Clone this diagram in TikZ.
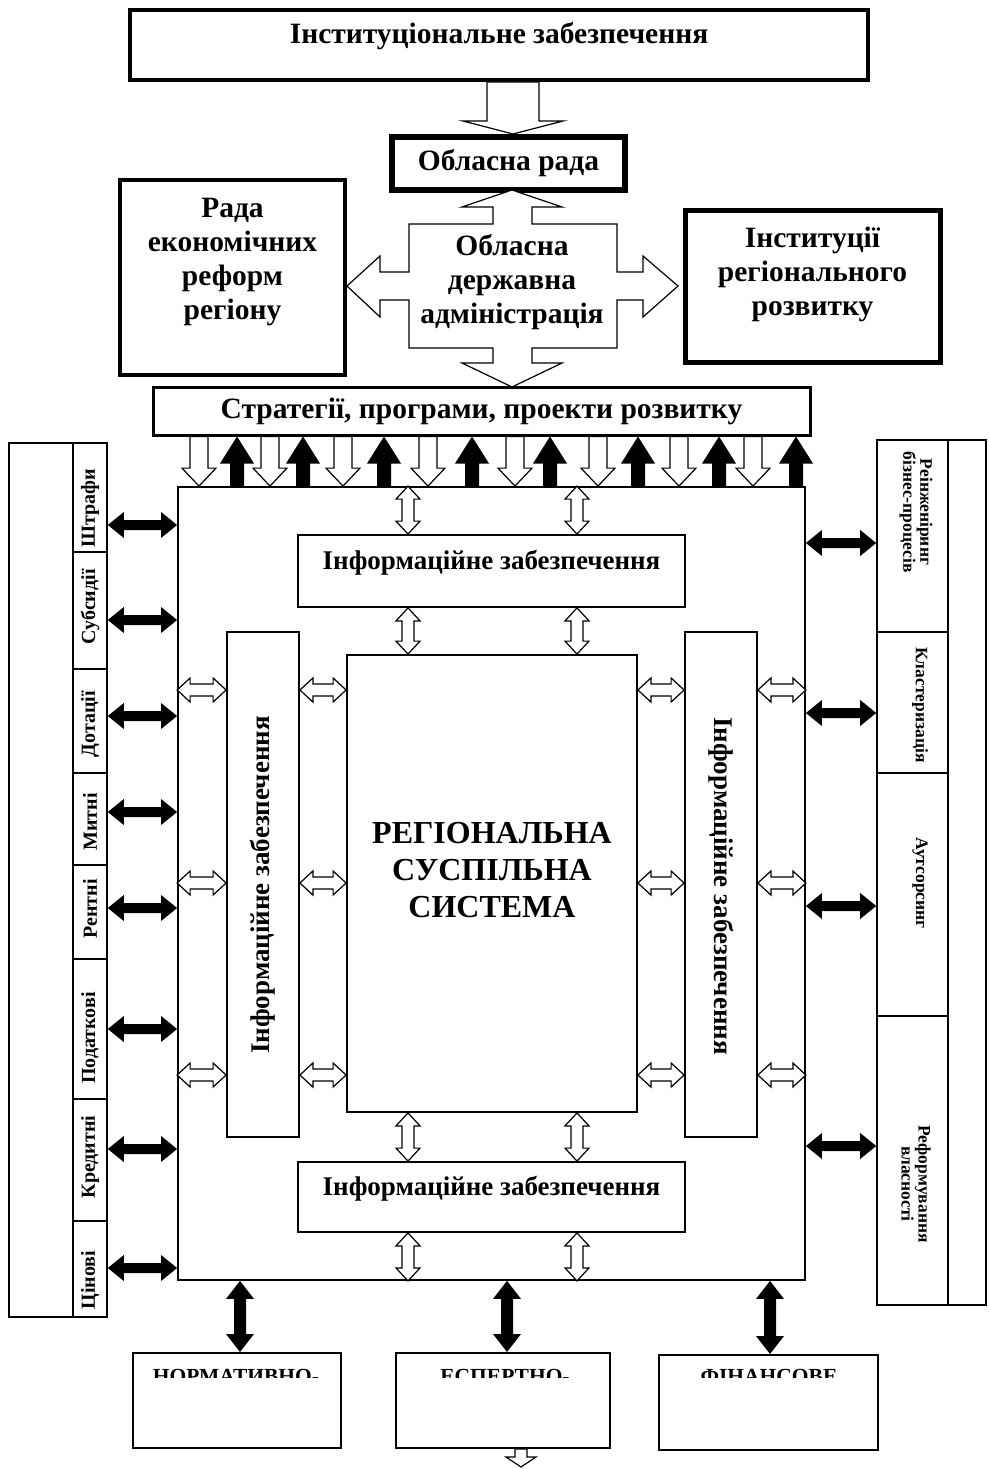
\documentclass[tikz,border=0pt]{standalone}
\usepackage{fontspec}
\setmainfont{Liberation Serif}
\usetikzlibrary{calc}

\tikzset{
  panel/.style={draw, line width=#1, inner sep=0pt},
  divider/.style={line width=1.6pt},
  bigtxt/.style={font=\bfseries\fontsize{29.5}{34}\selectfont, align=center, inner sep=0pt},
  midtxt/.style={font=\bfseries\fontsize{27}{30}\selectfont, align=center, inner sep=0pt},
  smalltxt/.style={font=\bfseries\fontsize{20}{21}\selectfont, align=center, inner sep=0pt},
  sidetxt/.style={font=\bfseries\fontsize{17.5}{17}\selectfont, align=center, inner sep=0pt},
  hollow/.style={draw, fill=white, line width=1.2pt},
  oneway/.style n args={3}{to path={
    ($(\tikztostart)!#2!90:(\tikztotarget)$)
    -- ($(\tikztotarget)!#1!(\tikztostart)!#2!-90:(\tikztostart)$)
    -- ($(\tikztotarget)!#1!(\tikztostart)!#3!-90:(\tikztostart)$)
    -- (\tikztotarget)
    -- ($(\tikztotarget)!#1!(\tikztostart)!#3!90:(\tikztostart)$)
    -- ($(\tikztotarget)!#1!(\tikztostart)!#2!90:(\tikztostart)$)
    -- ($(\tikztostart)!#2!-90:(\tikztotarget)$)
    -- cycle}},
  twoway/.style n args={3}{to path={
    (\tikztostart)
    -- ($(\tikztostart)!#1!(\tikztotarget)!#3!90:(\tikztotarget)$)
    -- ($(\tikztostart)!#1!(\tikztotarget)!#2!90:(\tikztotarget)$)
    -- ($(\tikztotarget)!#1!(\tikztostart)!#2!-90:(\tikztostart)$)
    -- ($(\tikztotarget)!#1!(\tikztostart)!#3!-90:(\tikztostart)$)
    -- (\tikztotarget)
    -- ($(\tikztotarget)!#1!(\tikztostart)!#3!90:(\tikztostart)$)
    -- ($(\tikztotarget)!#1!(\tikztostart)!#2!90:(\tikztostart)$)
    -- ($(\tikztostart)!#1!(\tikztotarget)!#2!-90:(\tikztotarget)$)
    -- ($(\tikztostart)!#1!(\tikztotarget)!#3!-90:(\tikztotarget)$)
    -- cycle}},
}

\begin{document}
\begin{tikzpicture}[x=1pt,y=-1pt]
\useasboundingbox (0,0) rectangle (988,1469);

\node[panel=4pt, minimum width=738pt, minimum height=70pt] (inst) at (499,45) {};
\node[bigtxt] (insttxt) at (499,36) {Інституціональне забезпечення};
\node[panel=6pt, minimum width=233pt, minimum height=53pt, bigtxt] (rada) at (508.5,163.5) {Обласна рада};
\node[panel=4.5pt, minimum width=225pt, minimum height=195pt] (rer) at (232.5,277.5) {};
\node[bigtxt] (rertxt) at (232.5,262) {Рада\\економічних\\реформ\\регіону};
\node[panel=5pt, minimum width=255pt, minimum height=152pt] (ireg) at (812.5,286) {};
\node[bigtxt] (iregtxt) at (812.5,274) {Інституції\\регіонального\\розвитку};
\node[panel=3pt, minimum width=657pt, minimum height=48pt, font=\bfseries\fontsize{29.5}{30}\selectfont] (strat) at (481.5,411) {Стратегії, програми, проекти розвитку};

\coordinate (topx) at (513,0);
\draw[hollow, oneway={13pt}{26pt}{50pt}] (inst.south -| topx) to (rada.north -| topx);

\draw[hollow] (512,190) -- (562,207) -- (532,207) -- (532,224) -- (617,224) -- (617,272)
  -- (643,272) -- (643,256) -- (678,286) -- (643,317) -- (643,300) -- (617,300)
  -- (617,348) -- (532,348) -- (532,363) -- (562,363) -- (512,387) -- (462,363)
  -- (493,363) -- (493,348) -- (409,348) -- (409,300) -- (380,300) -- (380,317)
  -- (347,286) -- (380,256) -- (380,272) -- (409,272) -- (409,224) -- (493,224)
  -- (493,207) -- (462,207) -- cycle;
\node[bigtxt] (oda) at (512,282) {Обласна\\державна\\адміністрація};

\node[panel=1.8pt, minimum width=627pt, minimum height=793pt] (main) at (491.5,883.5) {};
\node[panel=1.8pt, minimum width=387pt, minimum height=72pt] (infot) at (491.5,571) {};
\node[midtxt] (infottxt) at (491.5,563) {Інформаційне забезпечення};
\node[panel=1.8pt, minimum width=387pt, minimum height=70pt] (infob) at (491.5,1197) {};
\node[midtxt] (infobtxt) at (491.5,1189) {Інформаційне забезпечення};
\node[panel=1.8pt, minimum width=72pt, minimum height=505pt] (infol) at (263,884.5) {};
\node[midtxt, rotate=90] (infoltxt) at (263,885) {Інформаційне забезпечення};
\node[panel=1.8pt, minimum width=72pt, minimum height=505pt] (infor) at (721,884.5) {};
\node[midtxt, rotate=-90] (infortxt) at (721,886) {Інформаційне забезпечення};
\node[panel=1.8pt, minimum width=290pt, minimum height=457pt] (rss) at (492,883.5) {};
\node[font=\bfseries\fontsize{32}{37}\selectfont, align=center, inner sep=0pt] (rsstxt) at (492,870) {РЕГІОНАЛЬНА\\СУСПІЛЬНА\\СИСТЕМА};

\foreach \x [count=\i] in {199,270,343,428,515,598,679,753} {
  \coordinate (dn\i) at (\x,0);
  \draw[hollow, oneway={18pt}{9pt}{17pt}] (strat.south -| dn\i) to (main.north -| dn\i);
}
\foreach \x [count=\i] in {237,303,384,472,550,638,719,796} {
  \coordinate (up\i) at (\x,0);
  \fill[oneway={27pt}{7pt}{17pt}] (main.north -| up\i) to (strat.south -| up\i);
}

\foreach \x [count=\i] in {408,577} {
  \coordinate (vc\i) at (\x,0);
  \draw[hollow, twoway={13pt}{6pt}{12pt}] (main.north -| vc\i) to (infot.north -| vc\i);
  \draw[hollow, twoway={13pt}{6pt}{12pt}] (infot.south -| vc\i) to (rss.north -| vc\i);
  \draw[hollow, twoway={13pt}{6pt}{12pt}] (rss.south -| vc\i) to (infob.north -| vc\i);
  \draw[hollow, twoway={13pt}{6pt}{12pt}] (infob.south -| vc\i) to (main.south -| vc\i);
}
\foreach \y [count=\i] in {690,883,1075} {
  \coordinate (hc\i) at (0,\y);
  \draw[hollow, twoway={13pt}{6pt}{12pt}] (main.west |- hc\i) to (infol.west |- hc\i);
  \draw[hollow, twoway={13pt}{6pt}{12pt}] (infol.east |- hc\i) to (rss.west |- hc\i);
  \draw[hollow, twoway={13pt}{6pt}{12pt}] (rss.east |- hc\i) to (infor.west |- hc\i);
  \draw[hollow, twoway={13pt}{6pt}{12pt}] (infor.east |- hc\i) to (main.east |- hc\i);
}

\node[panel=1.6pt, minimum width=98pt, minimum height=874pt] (lcol) at (58,880) {};
\draw[divider] (73,443) -- (73,1317);
\foreach \y in {552,669,773,865,959,1099,1221}
  \draw[divider] (73,\y) -- (107,\y);
\foreach \t/\y [count=\i] in {Штрафи/508,Субсидії/607,Дотації/724,Митні/822,Рентні/909,Податкові/1038,Кредитні/1157,Цінові/1280}
  \node[smalltxt, rotate=90] (lt\i) at (90,\y) {\t};
\foreach \y [count=\i] in {525,620,716,812,908,1029,1149,1268} {
  \coordinate (la\i) at (0,\y);
  \fill[twoway={16pt}{5pt}{13pt}] (lcol.east |- la\i) to (main.west |- la\i);
}

\node[panel=1.6pt, minimum width=109pt, minimum height=865pt] (rcol) at (931.5,872.5) {};
\draw[divider] (948,440) -- (948,1305);
\foreach \y in {632,773,1016}
  \draw[divider] (877,\y) -- (948,\y);
\node[sidetxt, rotate=-90] (rt1) at (916,512) {Реінженіринг\\бізнес-процесів};
\node[sidetxt, rotate=-90] (rt2) at (920,705) {Кластеризація};
\node[sidetxt, rotate=-90] (rt3) at (920,883) {Аутсорсинг};
\node[sidetxt, rotate=-90] (rt4) at (916,1184) {Реформування\\власності};
\foreach \y [count=\i] in {543,713,906,1146} {
  \coordinate (ra\i) at (0,\y);
  \fill[twoway={16pt}{5pt}{13pt}] (main.east |- ra\i) to (rcol.west |- ra\i);
}

\node[panel=2pt, minimum width=208pt, minimum height=95pt] (b1) at (237,1400.5) {};
\node[panel=2pt, minimum width=214pt, minimum height=95pt] (b2) at (503,1400.5) {};
\node[panel=2pt, minimum width=219pt, minimum height=95pt] (b3) at (768.5,1402.5) {};
\begin{scope}
\clip (120,1350) rectangle (890,1377);
\node[smalltxt, font=\bfseries\fontsize{21.5}{22}\selectfont, anchor=base] (b1txt) at (236,1383) {НОРМАТИВНО-};
\node[smalltxt, font=\bfseries\fontsize{21.5}{22}\selectfont, anchor=base] (b2txt) at (505,1383) {ЕСПЕРТНО-};
\node[smalltxt, font=\bfseries\fontsize{21.5}{22}\selectfont, anchor=base] (b3txt) at (769,1383) {ФІНАНСОВЕ};
\end{scope}
\foreach \x [count=\i] in {240,507,770} {
  \coordinate (ba\i) at (\x,0);
  \fill[twoway={18pt}{6pt}{14pt}] (main.south -| ba\i) to (b\i.north -| ba\i);
}
\coordinate (tail) at (521,1467);
\draw[hollow, oneway={10pt}{6pt}{15pt}] (b2.south -| tail) to (tail);
\end{tikzpicture}
\end{document}
